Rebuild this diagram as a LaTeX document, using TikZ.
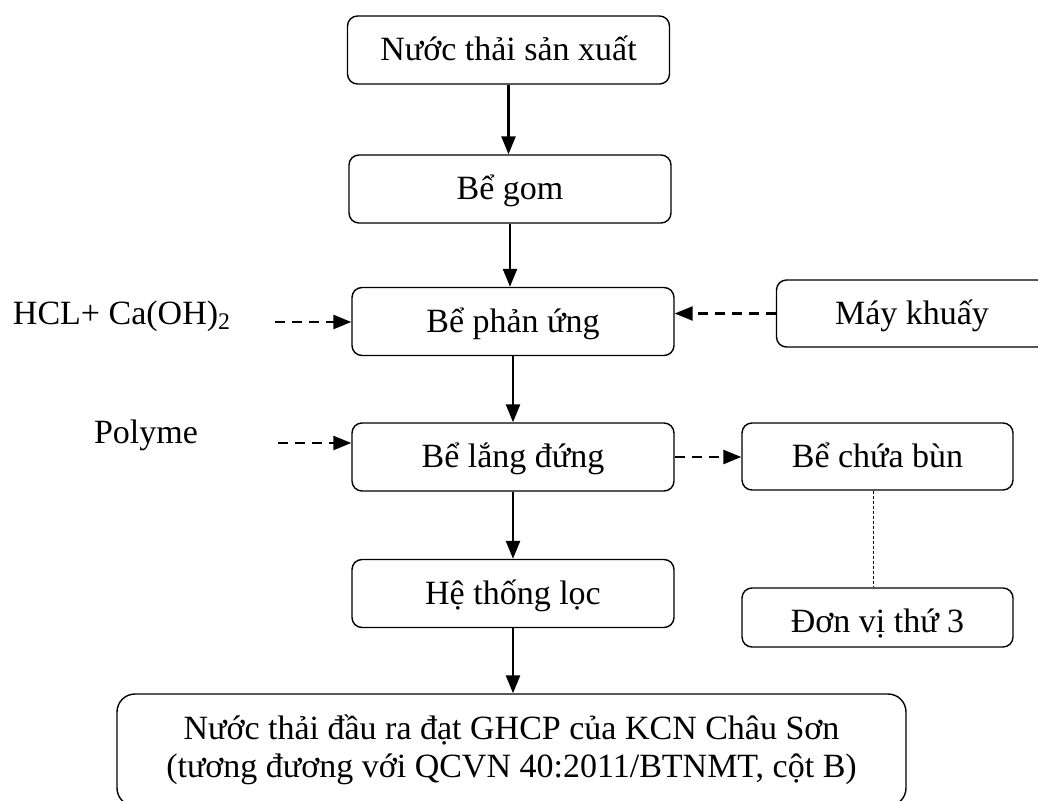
\documentclass[tikz,border=0pt]{standalone}
\usepackage{fontspec}
\setmainfont{Liberation Serif}
\usetikzlibrary{arrows.meta}

\begin{document}
\begin{tikzpicture}[
  x=0.5pt, y=-0.5pt,
  font=\fontsize{17}{19}\selectfont,
  >={Triangle[length=9pt, width=7pt]},
  stage/.style={draw, line width=0.7pt, rounded corners=5pt,
                inner sep=0pt, text height=14pt, text depth=3pt,
                minimum width=161pt, minimum height=34pt},
  side/.style={draw, line width=0.7pt, rounded corners=5pt,
               inner sep=0pt, text height=14pt, text depth=3pt,
               minimum width=135.5pt, minimum height=33.5pt},
  outbox/.style={draw, line width=0.7pt, rounded corners=9pt, align=center,
                 inner sep=0pt, minimum width=394.5pt, minimum height=56pt},
  flow/.style={->, line width=1.3pt},
  dflow/.style={->, line width=1.2pt, dash pattern=on 5pt off 3.5pt},
  dots/.style={line width=0.4pt, dash pattern=on 1.5pt off 1pt}
]
\clip (0,0) rectangle (1038,801);
\node[stage] (src)  at (508.5,50)  {Nước thải sản xuất};
\node[stage] (gom)  at (510,189)   {Bể gom};
\node[stage] (pu)   at (513,321.5) {Bể phản ứng};
\node[stage] (lang) at (513,457)   {Bể lắng đứng};
\node[stage] (loc)  at (513,593.5) {Hệ thống lọc};
\node[side]  (mk)   at (912,313.5) {Máy khuấy};
\node[side]  (bun)  at (877.5,456.5) {Bể chứa bùn};
\node[side, minimum height=29.5pt, text height=16pt, text depth=1.5pt] (dv)
  at (877.5,617.5) {Đơn vị thứ 3};
\node[outbox] (out) at (511.5,750)
  {Nước thải đầu ra đạt GHCP của KCN Châu Sơn\\(tương đương với QCVN 40:2011/BTNMT, cột B)};
\node (hcl) at (122,316) {HCL+ Ca(OH)\textsubscript{2}};
\node (poly) at (146,435) {Polyme};
\coordinate (hclend) at (275,322);
\coordinate (polyend) at (278,443);

\draw[flow] (src) -- (src |- gom.north);
\draw[flow] (gom) -- (gom |- pu.north);
\draw[flow] (pu) -- (pu |- lang.north);
\draw[flow] (lang) -- (lang |- loc.north);
\draw[flow] (loc) -- (loc |- out.north);
\draw[dflow] (hclend) -- (hclend -| pu.west);
\draw[dflow] (mk.west) -- (mk.west -| pu.east);
\draw[dflow] (polyend) -- (polyend -| lang.west);
\draw[dflow] (lang.east) -- (lang.east -| bun.west);
\draw[dots] ([xshift=-2pt]bun.south) -- ([xshift=-2pt]dv.north);
\end{tikzpicture}
\end{document}
